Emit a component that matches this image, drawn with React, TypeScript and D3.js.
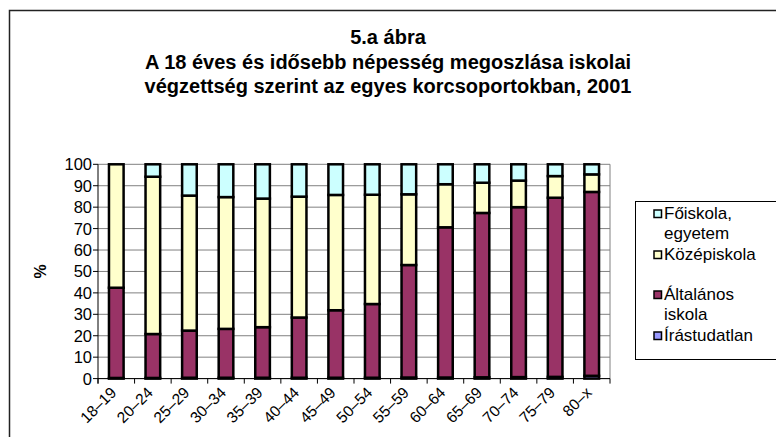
import React from "react";
import * as d3 from "d3";

const categories = ["18–19", "20–24", "25–29", "30–34", "35–39", "40–44", "45–49", "50–54", "55–59", "60–64", "65–69", "70–74", "75–79", "80–x"];
// shares (%) of each education level per age group
const irastudatlan = [0.3, 0.3, 0.4, 0.4, 0.4, 0.4, 0.4, 0.4, 0.5, 0.5, 0.6, 0.7, 0.8, 1.3];
const altalanos = [42.1, 20.5, 22.0, 22.8, 23.6, 28.1, 31.5, 34.4, 52.5, 70.1, 76.7, 79.3, 83.6, 85.8];
const kozepiskola = [57.6, 73.4, 63.0, 61.5, 60.0, 56.4, 53.8, 51.0, 33.0, 20.1, 14.1, 12.4, 10.1, 8.2];
const foiskola = [0.0, 5.8, 14.6, 15.3, 16.0, 15.1, 14.3, 14.2, 14.0, 9.3, 8.6, 7.6, 5.5, 4.7];
const yTicks = [0, 10, 20, 30, 40, 50, 60, 70, 80, 90, 100];
const titleLines = ["5.a ábra", "A 18 éves és idősebb népesség megoszlása iskolai", "végzettség szerint az egyes korcsoportokban, 2001"];

const keys = ["irastudatlan", "altalanos", "kozepiskola", "foiskola"];
const colors: Record<string, string> = {
  irastudatlan: "#9999FF",
  altalanos: "#993366",
  kozepiskola: "#FFFFCC",
  foiskola: "#CCFFFF",
};
const legendItems = [
  { key: "foiskola", lines: ["Főiskola,", "egyetem"] },
  { key: "kozepiskola", lines: ["Középiskola"] },
  { key: "altalanos", lines: ["Általános", "iskola"] },
  { key: "irastudatlan", lines: ["Írástudatlan"] },
];

const font = "'Liberation Sans', Arial, sans-serif";

export default function App() {
  const rows = categories.map((c, i) => ({
    cat: c,
    irastudatlan: irastudatlan[i],
    altalanos: altalanos[i],
    kozepiskola: kozepiskola[i],
    foiskola: foiskola[i],
  }));
  const stack = d3.stack<any>().keys(keys)(rows);

  const left = 98, right = 610, top = 164.3, bottom = 378.6;
  const x = d3.scaleBand<string>().domain(categories).range([left, right]).paddingInner(0.6).paddingOuter(0.3);
  const step = (right - left) / categories.length;
  const y = d3.scaleLinear().domain([0, 100]).range([bottom, top]);

  const legendY = [219, 260, 300, 341];

  return (
    <svg width={776} height={437} style={{ position: "absolute", left: 0, top: 0, background: "#fff" }} fontFamily={font}>
      {/* chart frame */}
      <rect x={9.5} y={10.5} width={800} height={500} fill="none" stroke="#222" strokeWidth={1.5} />

      {titleLines.map((t, i) => (
        <text key={i} x={388} y={44 + i * 24.5} textAnchor="middle" fontSize={20} fontWeight="bold" fill="#000">
          {t}
        </text>
      ))}

      {/* gridlines */}
      {yTicks.map((t) => (
        <line key={t} x1={left} x2={right} y1={y(t)} y2={y(t)} stroke="#808080" strokeWidth={1} />
      ))}
      <line x1={right} x2={right} y1={top} y2={bottom} stroke="#808080" strokeWidth={1} />

      {/* bars */}
      {stack.map((s) => (
        <g key={s.key} fill={colors[s.key]}>
          {s.map((d, i) => (
            <rect
              key={i}
              x={x(categories[i])}
              y={y(d[1])}
              width={x.bandwidth()}
              height={Math.max(0, y(d[0]) - y(d[1]))}
              stroke="#000"
              strokeWidth={2.5}
            />
          ))}
        </g>
      ))}

      {/* y axis */}
      <line x1={left} x2={left} y1={top} y2={bottom + 5} stroke="#000" />
      {yTicks.map((t) => (
        <g key={t}>
          <line x1={left - 5} x2={left} y1={y(t)} y2={y(t)} stroke="#000" />
          <text x={92} y={y(t)} dy="0.36em" textAnchor="end" fontSize={16.5}>
            {t}
          </text>
        </g>
      ))}
      <text transform={`translate(46,${(top + bottom) / 2}) rotate(-90)`} textAnchor="middle" fontSize={16} fontWeight="bold">
        %
      </text>

      {/* x axis */}
      <line x1={left} x2={right} y1={bottom} y2={bottom} stroke="#000" />
      {d3.range(categories.length + 1).map((i) => (
        <line key={i} x1={left + i * step} x2={left + i * step} y1={bottom} y2={bottom + 5} stroke="#000" />
      ))}
      {categories.map((c) => (
        <text
          key={c}
          transform={`translate(${(x(c) as number) + x.bandwidth() / 2 + 1},${bottom + 15}) rotate(-45)`}
          textAnchor="end"
          fontSize={15.5}
        >
          {c}
        </text>
      ))}

      {/* legend */}
      <rect x={635.5} y={201.5} width={200} height={158} fill="#fff" stroke="#000" strokeWidth={1} />
      {legendItems.map((it, i) => (
        <g key={it.key}>
          <rect x={654} y={legendY[i] - 9} width={7.5} height={7.5} fill={colors[it.key]} stroke="#000" strokeWidth={1.5} />
          {it.lines.map((l, j) => (
            <text key={j} x={664} y={legendY[i] + j * 20} fontSize={17}>
              {l}
            </text>
          ))}
        </g>
      ))}
    </svg>
  );
}
